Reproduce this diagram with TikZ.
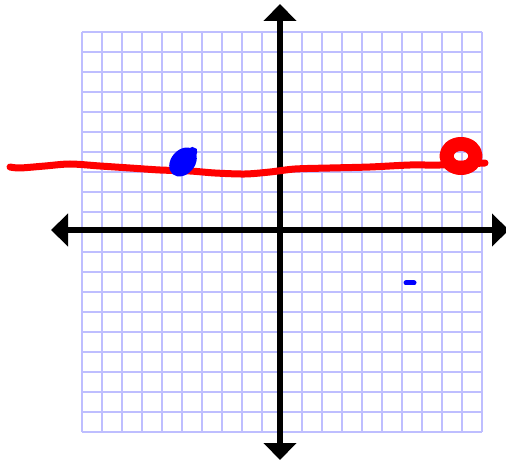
\documentclass[tikz,border=0pt]{standalone}
\usepackage{tikz}
\usetikzlibrary{arrows.meta}
\definecolor{gridblue}{RGB}{190,190,255}
\definecolor{penred}{RGB}{255,0,0}
\definecolor{penblue}{RGB}{0,0,255}

\begin{document}
\begin{tikzpicture}[x=1pt, y=-1pt,
    gridline/.style={draw=gridblue, line width=1.5pt},
    axisline/.style={line width=6pt, {Triangle[length=17pt,width=32pt]}-{Triangle[length=17pt,width=32pt]}},
    redpen/.style={draw=penred, line width=7pt, line cap=round, line join=round},
    bluepen/.style={draw=penblue, line width=5pt, line cap=round}]
    \useasboundingbox (0,0) rectangle (506,462);
    % grid
    \foreach \i in {0,...,20} {
      \draw[gridline] (82+20*\i,32) -- (82+20*\i,432);
      \draw[gridline] (82,32+20*\i) -- (482,32+20*\i);
    }
    % axes
    \coordinate (xl) at (51,230);
    \coordinate (xr) at (509,230);
    \coordinate (yt) at (280,4);
    \coordinate (yb) at (280,460);
    \draw[axisline] (xl) -- (xr);
    \draw[axisline] (yt) -- (yb);
    % red line
    \draw[redpen] plot[smooth] coordinates {(10,167) (20,168) (45,166) (70,164) (100,166) (130,168) (160,170) (190,171) (215,173) (245,174) (270,172) (295,169) (330,168) (370,167) (410,165) (440,165) (485,163)};
    \draw[redpen, line width=14pt] (461,156) ellipse [x radius=14.5, y radius=12];
    % blue marks
    \fill[penblue, rotate around={50:(183,162)}] (183,162) ellipse [x radius=16, y radius=12];
    \draw[bluepen] (187,155) .. controls (189,148) and (197,148) .. (194,154);
    \draw[bluepen] (406,283) -- (414,283);
\end{tikzpicture}
\end{document}
